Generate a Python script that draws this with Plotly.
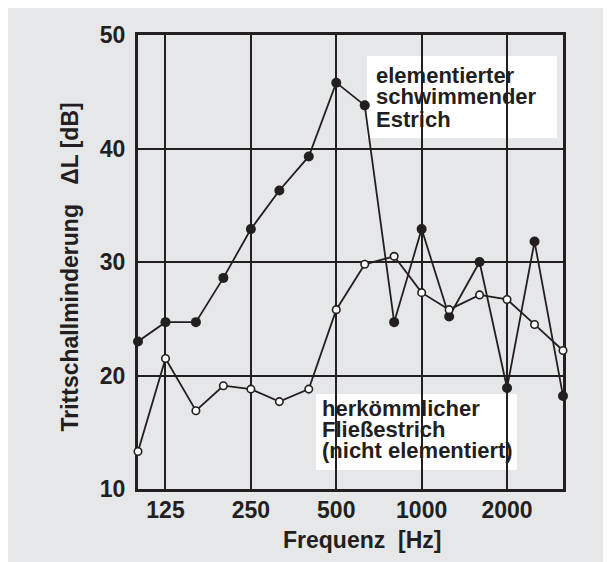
import plotly.graph_objects as go
import math

# Data
freq = [100, 125, 160, 200, 250, 315, 400, 500, 630, 800, 1000, 1250, 1600, 2000, 2500, 3150]
elementiert = [23.0, 24.7, 24.7, 28.6, 32.9, 36.3, 39.3, 45.8, 43.8, 24.7, 32.9, 25.2, 30.0, 18.9, 31.8, 18.2]
herkoemmlich = [13.3, 21.5, 16.9, 19.1, 18.8, 17.7, 18.8, 25.8, 29.8, 30.5, 27.3, 25.8, 27.1, 26.7, 24.5, 22.2]
xtick_vals = [125, 250, 500, 1000, 2000]
xtick_text = ["125", "250", "500", "1000", "2000"]
ytick_vals = [10, 20, 30, 40, 50]

W, H = 611, 562
OFF = 8  # page offset of the figure (body margin)
# plot area in page pixels: x 138..563, y 35..489
ML = 138 - OFF
MT = 35 - OFF
MR = W - (563 - OFF)
MB = H - (489 - OFF)
PW, PH = W - ML - MR, H - MT - MB

def px(x):  # page pixel -> paper
    return (x - OFF - ML) / PW

def py(y):
    return (MT + PH - (y - OFF)) / PH

BG = "#e6e7e8"
INK = "#231f20"
FONT = "Liberation Sans, Arial, Helvetica, sans-serif"

fig = go.Figure()
fig.add_trace(go.Scatter(
    x=freq, y=elementiert, mode="lines+markers",
    line=dict(color=INK, width=1.8),
    marker=dict(symbol="circle", size=10, color=INK, line=dict(width=0)),
    cliponaxis=False, showlegend=False))
fig.add_trace(go.Scatter(
    x=freq, y=herkoemmlich, mode="lines+markers",
    line=dict(color=INK, width=1.8),
    marker=dict(symbol="circle", size=7.5, color="white", line=dict(width=1.6, color=INK)),
    cliponaxis=False, showlegend=False))

shapes = [
    dict(type="rect", xref="paper", yref="paper", x0=px(367), x1=px(557), y0=py(138), y1=py(56),
         fillcolor="white", line=dict(width=0), layer="between"),
    dict(type="rect", xref="paper", yref="paper", x0=px(316), x1=px(517), y0=py(470), y1=py(394),
         fillcolor="white", line=dict(width=0), layer="between"),
]

afont = dict(family=FONT, size=22, color=INK, weight="bold")
annotations = []
for txt, yb in [("elementierter", 83), ("schwimmender", 104.3), ("Estrich", 126.7)]:
    annotations.append(dict(text=txt, xref="paper", yref="paper", x=px(376), y=py(yb - 7.6),
                            xanchor="left", yanchor="middle", showarrow=False, font=afont,
                            borderpad=0, borderwidth=0))
for txt, yb in [("herkömmlicher", 415.7), ("Fließestrich", 436.7), ("(nicht elementiert)", 458)]:
    annotations.append(dict(text=txt, xref="paper", yref="paper", x=px(321.5), y=py(yb - 7.6),
                            xanchor="left", yanchor="middle", showarrow=False, font=afont,
                            borderpad=0, borderwidth=0))

tfont = dict(family=FONT, size=23, color=INK, weight="bold")
annotations.append(dict(text="Trittschallminderung   ΔL [dB]", xref="paper", yref="paper",
                        x=px(69), y=py(267.5), textangle=-90, xanchor="center", yanchor="middle",
                        showarrow=False, font=tfont, borderpad=0, borderwidth=0))
annotations.append(dict(text="Frequenz  [Hz]", xref="paper", yref="paper",
                        x=px(362), y=py(540), xanchor="center", yanchor="middle",
                        showarrow=False, font=tfont, borderpad=0, borderwidth=0))

fig.update_layout(
    width=W, height=H,
    margin=dict(l=ML, r=MR, t=MT, b=MB, pad=0),
    paper_bgcolor=BG, plot_bgcolor=BG,
    shapes=shapes, annotations=annotations,
    xaxis=dict(type="log", range=[math.log10(100), math.log10(3150)],
               tickvals=xtick_vals, ticktext=xtick_text,
               showgrid=True, gridcolor=INK, gridwidth=1.8,
               showline=True, linecolor=INK, linewidth=3.2, mirror=True,
               ticks="", ticklabelstandoff=-2, tickfont=tfont,
               zeroline=False, layer="below traces"),
    yaxis=dict(range=[10, 50], tickvals=ytick_vals,
               showgrid=True, gridcolor=INK, gridwidth=1.8,
               showline=True, linecolor=INK, linewidth=3.2, mirror=True,
               ticks="", ticklabelstandoff=5, tickfont=tfont,
               zeroline=False, layer="below traces"),
)

fig.write_html("out.html")
